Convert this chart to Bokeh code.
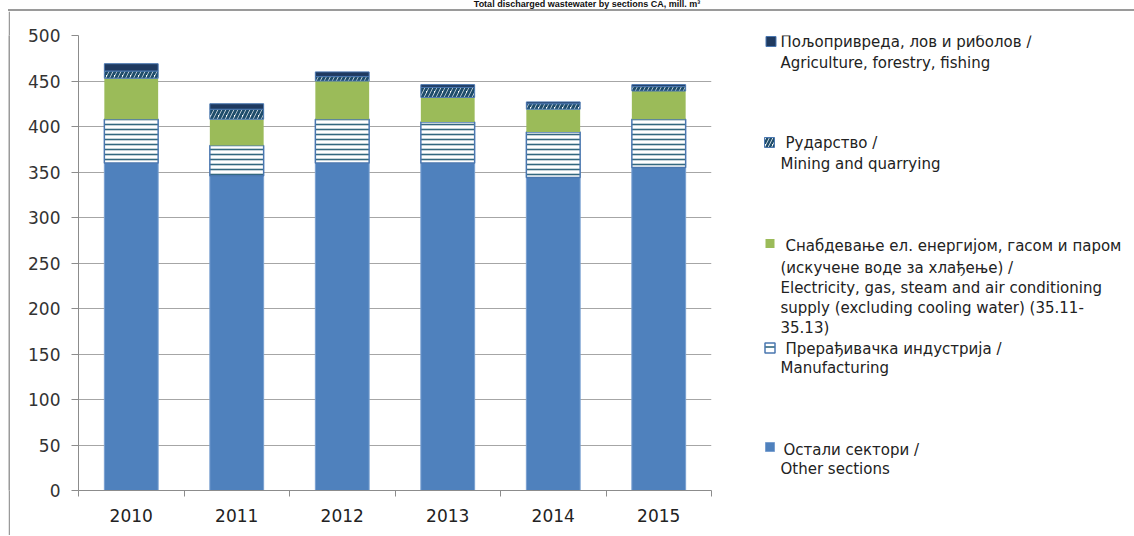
import numpy as np
from bokeh.plotting import figure
from bokeh.layouts import column, row
from bokeh.models import Range1d, FixedTicker, Div, Spacer
from bokeh.core.properties import value
from bokeh.embed import file_html
from bokeh.resources import INLINE

# ---------------- data ----------------
title = "Total discharged wastewater by sections CA, mill. m³"
years = ["2010", "2011", "2012", "2013", "2014", "2015"]
other_sections = [360, 346, 360, 360, 344, 355]
manufacturing = [48, 33, 48, 45, 50, 53]
electricity = [45, 29, 42, 27, 25, 31]
mining = [8, 11, 5, 11, 6, 5]
agriculture = [8, 6, 5, 3, 2, 2]
y_ticks = [0, 50, 100, 150, 200, 250, 300, 350, 400, 450, 500]

legend_agriculture = ["Пољопривреда, лов и риболов /", "Agriculture, forestry, fishing"]
legend_mining = ["Рударство /", "Mining and quarrying"]
legend_electricity = ["Снабдевање ел. енергијом, гасом и паром",
                      "(искучене воде за хлађење) /",
                      "Electricity, gas, steam and air conditioning",
                      "supply (excluding cooling water) (35.11-",
                      "35.13)"]
legend_manufacturing = ["Прерађивачка индустрија /", "Manufacturing"]
legend_other = ["Остали сектори /", "Other sections"]

# ---------------- styles ----------------
FONT = "DejaVu Sans"
GRAY = "#a6a6a6"
AXIS = "#8c8c8c"
FRAME = "#9a9a9a"
st_other = dict(fill_color="#4f81bd", line_color="#7aa0d0", line_width=1)
st_manuf = dict(fill_color="white", line_color="#4a77b0", line_width=1.5,
                hatch_pattern="-", hatch_color="#33687f", hatch_weight=1.6, hatch_scale=5)
st_elec = dict(fill_color="#9bbb59", line_color=None)
st_mining = dict(fill_color="white", line_color="#4a77b0", line_width=1,
                 hatch_pattern="/", hatch_color="#1f4d6b", hatch_weight=3, hatch_scale=8)
st_agri = dict(fill_color="#1f3a60", line_color="#4a77b0", line_width=1)

TOP = 11          # title strip incl. frame line
ROW_H = 524
BT = 35 - TOP     # chart frame top at y=35
BB = TOP + ROW_H - 490  # chart frame bottom at y=490

# ---------------- title (above the frame line) ----------------
title_div = Div(text=title, width=1126, height=TOP,
                styles={"box-sizing": "border-box", "border-bottom": f"2px solid {FRAME}",
                        "font-family": "'Liberation Sans', Arial, sans-serif",
                        "font-weight": "bold", "font-size": "9px", "line-height": "9px",
                        "text-align": "center", "padding-left": "32px", "color": "#111111",
                        "overflow": "hidden", "margin": "0"})

left_line = figure(width=2, height=ROW_H, output_backend="svg", toolbar_location=None,
                   x_axis_type=None, y_axis_type=None, min_border=0,
                   min_border_top=BT, min_border_bottom=BB,
                   background_fill_color=FRAME, border_fill_color=FRAME,
                   outline_line_color=None, x_range=Range1d(0, 1), y_range=Range1d(0, 1))

# ---------------- chart ----------------
p = figure(width=706, height=ROW_H, x_range=Range1d(-0.5, 5.5), y_range=Range1d(0, 500),
           output_backend="svg", toolbar_location=None,
           min_border_left=68, min_border_right=5, min_border_top=BT, min_border_bottom=BB,
           outline_line_color=None, background_fill_color="white", border_fill_color="white")

xs = list(range(len(years)))
bottom = np.zeros(len(years))
for vals, st in [(other_sections, st_other), (manufacturing, st_manuf), (electricity, st_elec),
                 (mining, st_mining), (agriculture, st_agri)]:
    top = bottom + np.array(vals, dtype=float)
    p.vbar(x=xs, bottom=bottom, top=top, width=0.51, **st)
    bottom = top

p.xgrid.visible = False
p.ygrid.ticker = FixedTicker(ticks=y_ticks)
p.ygrid.grid_line_color = GRAY
p.ygrid.grid_line_width = 1

p.xaxis.ticker = FixedTicker(ticks=xs, minor_ticks=[i - 0.5 for i in range(len(years) + 1)])
p.xaxis.major_label_overrides = {i: y for i, y in enumerate(years)}
p.xaxis.major_tick_out = 0
p.xaxis.major_tick_in = 0
p.xaxis.minor_tick_out = 6
p.xaxis.minor_tick_in = 0
p.xaxis.minor_tick_line_color = AXIS
p.xaxis.axis_line_color = AXIS
p.xaxis.major_label_standoff = 12
p.xaxis.major_label_text_font = FONT
p.xaxis.major_label_text_font_size = "17px"
p.xaxis.major_label_text_color = "#222222"

p.yaxis.ticker = FixedTicker(ticks=y_ticks)
p.yaxis.major_tick_out = 7
p.yaxis.major_tick_in = 0
p.yaxis.minor_tick_line_color = None
p.yaxis.major_tick_line_color = AXIS
p.yaxis.axis_line_color = AXIS
p.yaxis.major_label_standoff = 11
p.yaxis.major_label_text_font = FONT
p.yaxis.major_label_text_font_size = "17px"
p.yaxis.major_label_text_color = "#333333"

# ---------------- legend panel (page-pixel coordinates) ----------------
lf = figure(width=410, height=ROW_H, x_range=Range1d(716, 1126), y_range=Range1d(490, 35),
            output_backend="svg", toolbar_location=None, x_axis_type=None, y_axis_type=None,
            min_border_left=0, min_border_right=0, min_border_top=BT, min_border_bottom=BB,
            outline_line_color=None, background_fill_color="white", border_fill_color="white")

legend_items = [
    (legend_agriculture, st_agri, (770.5, 41, 10), (780, 41), (780, 62), 21),
    (legend_mining, dict(st_mining, hatch_scale=7, hatch_weight=2.5), (769, 142, 10), (785, 142), (780, 163), 21),
    (legend_electricity, st_elec, (769.5, 243, 9), (785, 245), (780, 267), 20.3),
    (legend_manufacturing, dict(st_manuf, hatch_scale=10), (769.5, 347.5, 10), (785, 348), (780, 367), 20),
    (legend_other, st_other, (769.5, 446.5, 9), (783, 449), (780, 468), 20),
]
for lines, st, (cx, cy, s), (x1, y1), (x2, y2), dy in legend_items:
    lf.rect(x=[cx], y=[cy], width=s, height=s, **st)
    txs = [x1] + [x2] * (len(lines) - 1)
    tys = [y1] + [y2 + dy * i for i in range(len(lines) - 1)]
    lf.text(x=txs, y=tys, text=lines, text_font=value(FONT), text_font_size="15px",
            text_baseline="middle", text_align="left", text_color="#222222")

layout = row(Spacer(width=8, height=TOP + ROW_H),
             column(title_div, row(left_line, p, lf)))

open("out.html", "w").write(file_html(layout, INLINE))
